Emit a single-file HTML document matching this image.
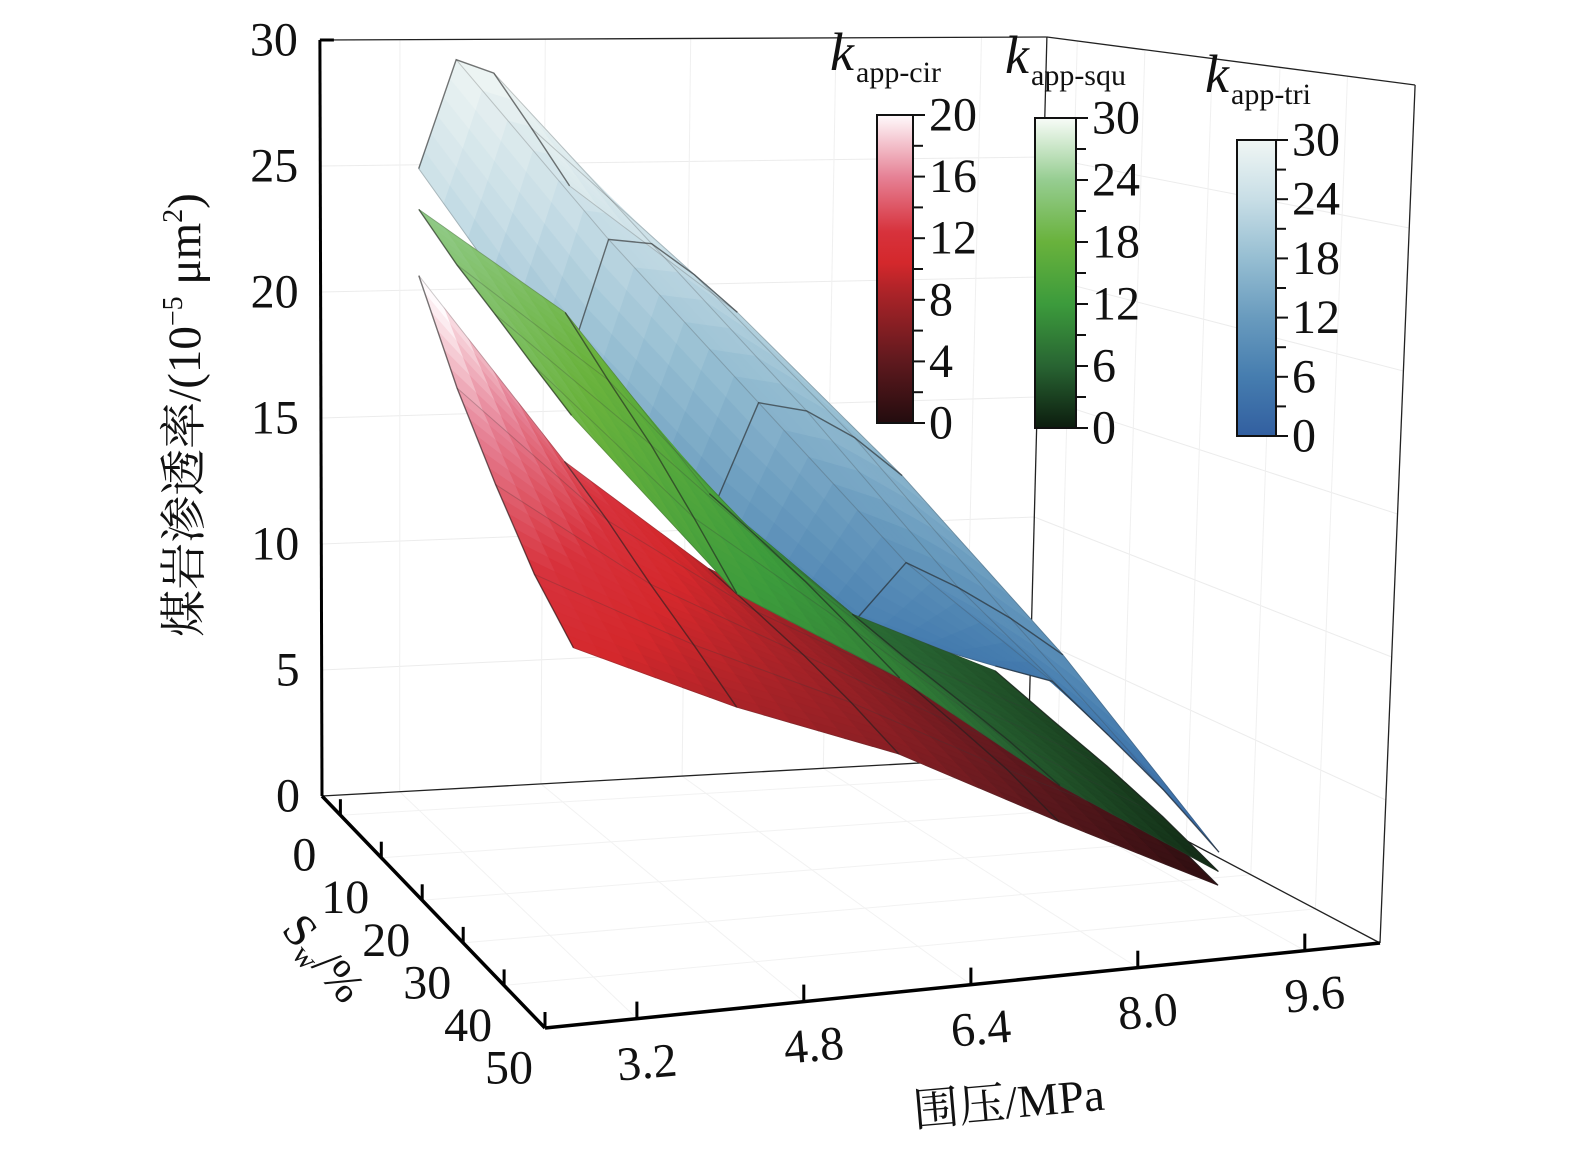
<!DOCTYPE html>
<html><head><meta charset="utf-8"><style>
html,body{margin:0;padding:0;background:#fff;}
svg{display:block;font-family:"Liberation Serif","Noto Serif CJK SC",serif;}
</style></head><body>
<svg id="chart" width="1575" height="1161" viewBox="0 0 1575 1161" xmlns="http://www.w3.org/2000/svg">
<g id="box"></g>
<g id="surfaces"></g>
<g id="axes"></g>
<g id="legends"></g>
<text transform="translate(200,415) rotate(-90)" text-anchor="middle" font-size="47" fill="#111">煤岩渗透率/(10<tspan font-size="28" dy="-18">−5</tspan><tspan dy="18"> μm</tspan><tspan font-size="28" dy="-18">2</tspan><tspan dy="18">)</tspan></text>
<text transform="translate(1010,1118) rotate(-5)" text-anchor="middle" font-size="46" fill="#111">围压/MPa</text>
<text transform="translate(312,968) rotate(50)" text-anchor="middle" font-size="46" fill="#111">S<tspan font-size="30" dy="8">w</tspan><tspan dy="-8">/%</tspan></text>
</svg>
<script>
const pressures=[3.2,4.8,6.4,8.0,9.6];
const swValues=[0,9,18,27,36];
const kCir=[
 [21.0,13.5,9.0,6.0,3.5],
 [17.5,12.2,8.4,5.4,2.9],
 [14.8,10.8,7.8,4.8,2.2],
 [12.5,9.6,7.1,4.2,1.5],
 [10.9,8.4,6.3,3.4,0.6]];
const kSqu=[
 [23.6,19.4,12.0,6.9,4.3],
 [22.2,17.6,11.3,6.3,3.5],
 [21.1,16.0,10.6,5.8,2.8],
 [20.0,14.2,9.8,5.3,2.0],
 [19.0,12.4,9.0,4.7,1.1]];
const kTri=[
 [25.2,17.0,11.0,6.5,4.5],
 [30.0,23.0,16.5,10.0,5.0],
 [30.0,23.5,17.0,10.0,4.0],
 [28.5,23.0,16.8,9.8,3.0],
 [27.0,22.3,16.2,9.4,1.8]];
const zTicks=[0,5,10,15,20,25,30];
const pTicks=[3.2,4.8,6.4,8.0,9.6];
const swTicks=[0,10,20,30,40,50];
const cirTicks=[0,4,8,12,16,20];
const squTicks=[0,6,12,18,24,30];
const triTicks=[0,6,12,18,24,30];

const NS="http://www.w3.org/2000/svg";
const P0=2.32,P1=10.32,S0=-4.5,S1=50,Z1=30;
const BL=[322,796],BR=[1028,757],FL=[545,1028],FR=[1380,943];
const VBL=[-0.07,-25.2],VBR=[0.63,-24.0],VFL=[-0.5,-30.1],VFR=[1.17,-28.6];
function bil(a,b,c,d,u,v,i){return (1-u)*(1-v)*a[i]+u*(1-v)*b[i]+(1-u)*v*c[i]+u*v*d[i];}
function proj(p,s,z){
 const u=(p-P0)/(P1-P0),v=(s-S0)/(S1-S0);
 return [bil(BL,BR,FL,FR,u,v,0)+z*bil(VBL,VBR,VFL,VFR,u,v,0),
         bil(BL,BR,FL,FR,u,v,1)+z*bil(VBL,VBR,VFL,VFR,u,v,1)];
}
function mk(tag,attrs,parent){const e=document.createElementNS(NS,tag);for(const k in attrs)e.setAttribute(k,attrs[k]);parent.appendChild(e);return e;}
function lerpC(stops,t){
 t=Math.max(0,Math.min(1,t));
 for(let i=1;i<stops.length;i++){if(t<=stops[i][0]){const a=stops[i-1],b=stops[i];const f=(t-a[0])/(b[0]-a[0]||1);
  return 'rgb('+[0,1,2].map(j=>Math.round(a[1][j]+(b[1][j]-a[1][j])*f)).join(',')+')';}}
 const l=stops[stops.length-1][1];return 'rgb('+l.join(',')+')';
}
const cmapCir=[[0,[35,12,14]],[0.2,[95,25,30]],[0.42,[170,35,40]],[0.52,[212,40,44]],[0.62,[215,50,60]],[0.8,[230,130,150]],[1,[255,250,252]]];
const cmapSqu=[[0,[12,28,14]],[0.2,[40,100,50]],[0.4,[60,155,60]],[0.6,[105,178,60]],[0.8,[150,205,145]],[1,[248,252,248]]];
const cmapTri=[[0,[50,95,160]],[0.2,[70,125,175]],[0.4,[105,155,190]],[0.6,[150,190,210]],[0.8,[200,222,230]],[1,[240,246,244]]];

const box=document.getElementById('box');
function line(par,a,b,w,name,col){
 const l=mk('line',{x1:a[0].toFixed(1),y1:a[1].toFixed(1),x2:b[0].toFixed(1),y2:b[1].toFixed(1),stroke:col||'#222','stroke-width':w},par);
 
 
 return l;
}
for(const z of zTicks.slice(1,6)){line(box,proj(P0,S0,z),proj(P1,S0,z),1,'back-wall-gridline','#ececec');line(box,proj(P1,S0,z),proj(P1,S1,z),1,'right-wall-gridline','#ececec');}
for(const p of pTicks){line(box,proj(p,S0,0),proj(p,S0,Z1),1,'back-wall-gridline','#f0f0f0');line(box,proj(p,S0,0),proj(p,S1,0),1,'floor-gridline','#f2f2f2');}
for(const s of swTicks){line(box,proj(P0,s,0),proj(P1,s,0),1,'floor-gridline','#f2f2f2');line(box,proj(P1,s,0),proj(P1,s,Z1),1,'right-wall-gridline','#f0f0f0');}
line(box,proj(P0,S0,Z1),proj(P1,S0,Z1),1.3,'box-top-back-edge');
line(box,proj(P1,S0,0),proj(P1,S0,Z1),1.3,'box-back-right-edge');
line(box,proj(P1,S0,Z1),proj(P1,S1,Z1),1.3,'box-top-right-edge');
line(box,proj(P1,S1,0),proj(P1,S1,Z1),1.3,'box-front-right-edge');
line(box,proj(P0,S0,0),proj(P1,S0,0),1.3,'box-floor-back-edge');
line(box,proj(P1,S0,0),proj(P1,S1,0),1.3,'box-floor-right-edge');

const surf=document.getElementById('surfaces');
function drawSurface(data,cmap,vmax,name){
 const g=mk('g',{},surf);
 
 
 const N=6;
 for(let i=0;i<swValues.length-1;i++){
  for(let j=pressures.length-2;j>=0;j--){
   for(let a=0;a<N;a++)for(let b=N-1;b>=0;b--){
    const pts=[[a,b],[a,b+1],[a+1,b+1],[a+1,b]].map(([aa,bb])=>{
     const fs=aa/N,fp=bb/N;
     const s=swValues[i]+(swValues[i+1]-swValues[i])*fs;
     const p=pressures[j]+(pressures[j+1]-pressures[j])*fp;
     const z=(1-fs)*(1-fp)*data[i][j]+(1-fs)*fp*data[i][j+1]+fs*(1-fp)*data[i+1][j]+fs*fp*data[i+1][j+1];
     return [proj(p,s,z),z];});
    const zc=pts.reduce((t,q)=>t+q[1],0)/4;
    const col=lerpC(cmap,zc/vmax);
    const poly=mk('polygon',{points:pts.map(q=>q[0][0].toFixed(1)+','+q[0][1].toFixed(1)).join(' '),fill:col,stroke:col,'stroke-width':0.8},g);
    
    
   }
  }
 }
 for(let i=0;i<swValues.length;i++){
  const d=pressures.map((p,j)=>proj(p,swValues[i],data[i][j])).map((q,k)=>(k?'L':'M')+q[0].toFixed(1)+','+q[1].toFixed(1)).join('');
  const pl=mk('path',{d:d,fill:'none',stroke:'rgba(60,60,60,0.25)','stroke-width':1},g);
  
  
 }
 for(let j=0;j<pressures.length;j++){
  const d=swValues.map((s,i)=>proj(pressures[j],s,data[i][j])).map((q,k)=>(k?'L':'M')+q[0].toFixed(1)+','+q[1].toFixed(1)).join('');
  const pl=mk('path',{d:d,fill:'none',stroke:'rgba(30,30,30,0.6)','stroke-width':1.4},g);
  
  
 }
}
drawSurface(kCir,cmapCir,20,'surface-k-app-cir');
drawSurface(kTri,cmapTri,30,'surface-k-app-tri');
drawSurface(kSqu,cmapSqu,30,'surface-k-app-squ');

const ax=document.getElementById('axes');
line(ax,proj(P0,S0,0),proj(P0,S0,Z1),3,'z-axis-line','#000');
line(ax,proj(P0,S0,Z1),[proj(P0,S0,Z1)[0]+14,proj(P0,S0,Z1)[1]],3,'z-axis-cap','#000');
line(ax,proj(P0,S0,0),proj(P0,S1,0),3.5,'sw-axis-line','#000');
line(ax,proj(P0,S1,0),proj(P1,S1,0),3.5,'pressure-axis-line','#000');
function txt(par,x,y,str,size,anchor,name,rot){
 const t=mk('text',{x:x.toFixed(1),y:y.toFixed(1),'font-size':size,'text-anchor':anchor,fill:'#111','dominant-baseline':'central'},par);
 if(rot)t.setAttribute('transform','rotate('+rot+' '+x.toFixed(1)+' '+y.toFixed(1)+')');
 t.textContent=str;
 
 
 return t;
}
for(const z of zTicks){const q=proj(P0,S0,z);txt(ax,q[0]-22,q[1],String(z),48,'end','z-tick-label');}
for(const p of pTicks){const q=proj(p,S1,0);line(ax,q,[q[0],q[1]-17],3,'pressure-tick','#000');txt(ax,q[0]+10,q[1]+44,p.toFixed(1),48,'middle','pressure-tick-label',-5);}
for(const s of swTicks){const q=proj(P0,s,0);line(ax,q,[q[0],q[1]-16],3,'sw-tick','#000');txt(ax,q[0]-36,q[1]+40,String(s),48,'middle','sw-tick-label');}

const lg=document.getElementById('legends');
const defs=mk('defs',{},lg);
function colorbar(id,cmap,ticks,x,w,yTop,yBot,kx,ky,sub,name){
 const gr=mk('linearGradient',{id:id,x1:0,y1:1,x2:0,y2:0},defs);
 for(const st of cmap){mk('stop',{offset:st[0],'stop-color':'rgb('+st[1].join(',')+')'},gr);}
 const g=mk('g',{},lg);
 
 
 const r=mk('rect',{x:x,y:yTop,width:w,height:yBot-yTop,fill:'url(#'+id+')',stroke:'#111','stroke-width':2},g);
 
 
 const vmax=ticks[ticks.length-1];
 const ty=v=>yBot-(yBot-yTop)*v/vmax;
 for(let i=0;i<ticks.length;i++){
  const y=ty(ticks[i]);
  line(g,[x+w,y],[x+w+12,y],2,name+'-tick','#111');
  if(i<ticks.length-1){const ym=ty((ticks[i]+ticks[i+1])/2);line(g,[x+w,ym],[x+w+10,ym],2,name+'-minor-tick','#111');}
  txt(g,x+w+16,y,String(ticks[i]),48,'start',name+'-label');
 }
 const t=mk('text',{x:kx,y:ky,'font-size':54,'font-style':'italic',fill:'#111'},g);
 t.textContent='k';
 
 
 const s=mk('text',{x:kx+26,y:ky+12,'font-size':30,fill:'#111'},g);
 s.textContent=sub;
 
 
}
colorbar('gc',cmapCir,cirTicks,877,36,115,423,830,70,'app-cir','colorbar-k-app-cir');
colorbar('gs',cmapSqu,squTicks,1035,41,118,428,1005,73,'app-squ','colorbar-k-app-squ');
colorbar('gt',cmapTri,triTicks,1237,39,140,436,1205,92,'app-tri','colorbar-k-app-tri');
</script>
</body></html>
